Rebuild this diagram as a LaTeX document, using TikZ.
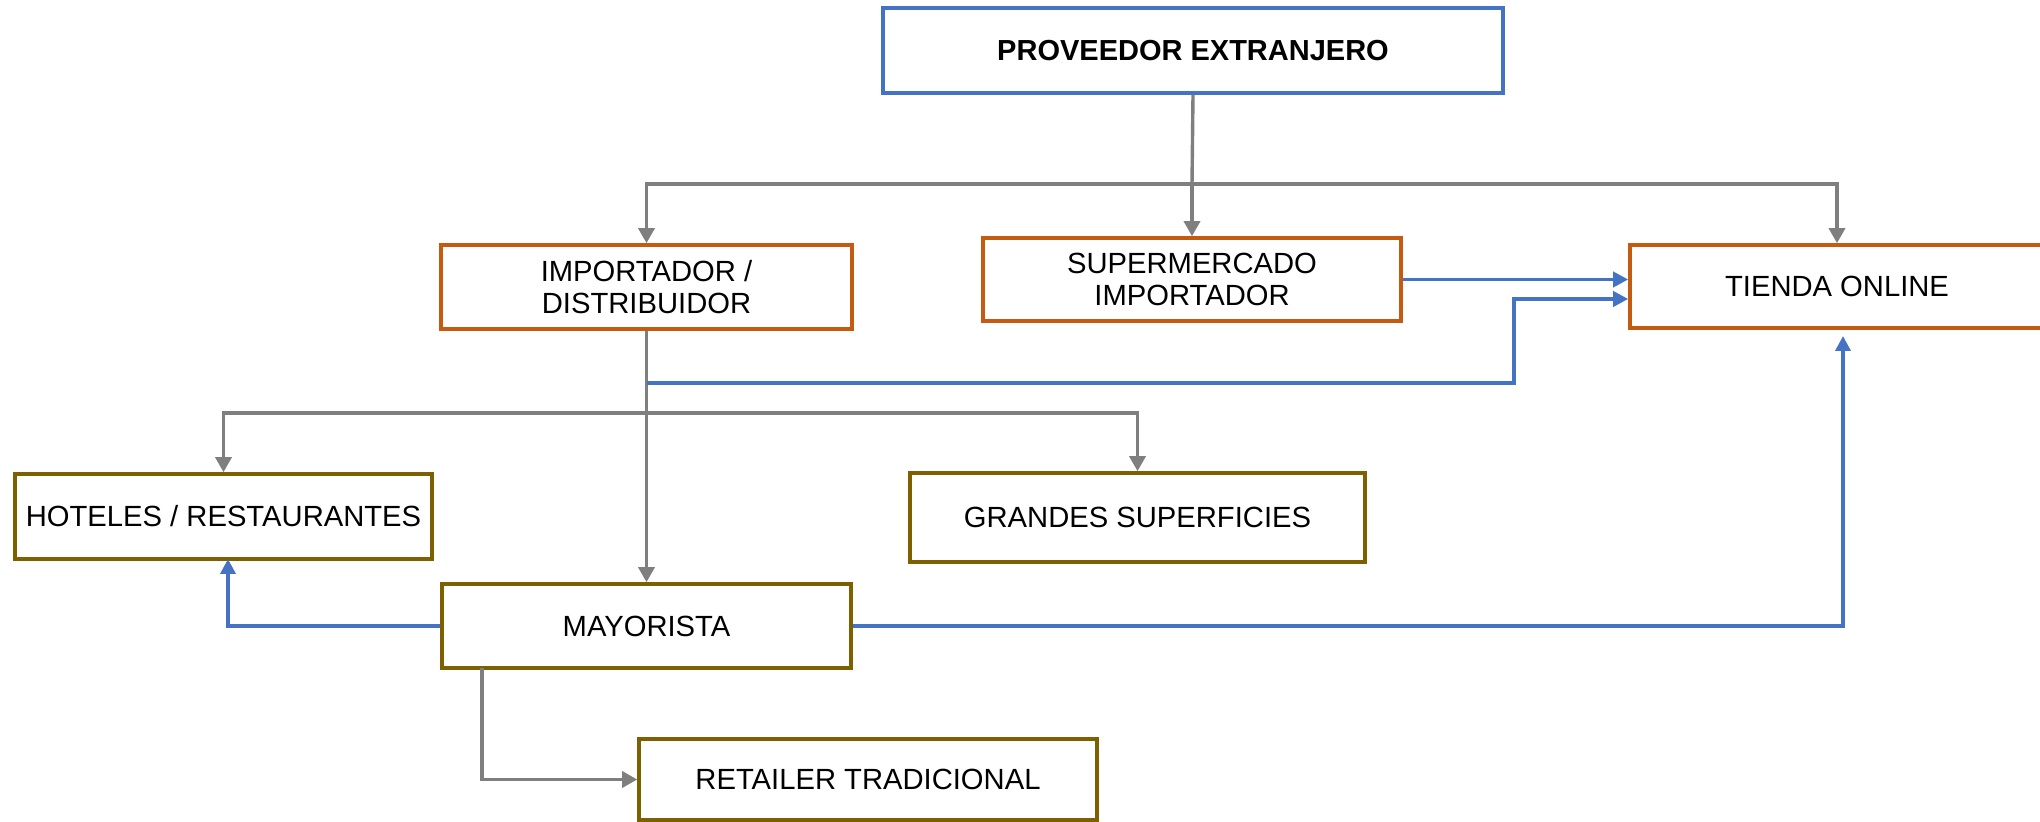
\documentclass[tikz,border=0pt]{standalone}
\usepackage{fontspec}
\setmainfont{Liberation Sans}
\usetikzlibrary{arrows.meta}
\definecolor{cblue}{HTML}{4472C4}
\definecolor{corange}{HTML}{C55A11}
\definecolor{cgold}{HTML}{7F6000}
\definecolor{cgray}{HTML}{7F7F7F}
\begin{document}
\begin{tikzpicture}[x=0.5pt,y=-0.5pt,
  box/.style={draw,line width=1.8pt,fill=white,inner sep=0pt,align=center,
    font=\fontsize{14.6}{15.6}\selectfont},
  bluebox/.style={box,draw=cblue},
  orbox/.style={box,draw=corange},
  goldbox/.style={box,draw=cgold},
  gline/.style={draw=cgray,line width=1.7pt},
  garrow/.style={gline,-{Triangle[length=7.5pt,width=8pt]}},
  bline/.style={draw=cblue,line width=1.8pt},
  barrow/.style={bline,-{Triangle[length=7.5pt,width=7.5pt]}}]
\useasboundingbox (0,0) rectangle (2040,822);
\begin{scope}
\clip (0,0) rectangle (2040,822);
% nodes
\node[bluebox,minimum width=310pt,minimum height=42.5pt,font=\fontsize{14.5}{15.5}\selectfont\bfseries] (prov) at (1193,50.5) {PROVEEDOR EXTRANJERO};
\node[orbox,minimum width=205.5pt,minimum height=42pt] (imp) at (646.5,287) {IMPORTADOR /\\DISTRIBUIDOR};
\node[orbox,minimum width=209pt,minimum height=41.5pt] (sup) at (1192,279.5) {SUPERMERCADO\\IMPORTADOR};
\node[orbox,minimum width=207pt,minimum height=41.5pt] (tienda) at (1837,286.5) {TIENDA ONLINE};
\node[goldbox,minimum width=208.5pt,minimum height=42.5pt] (hot) at (223.5,516.5) {HOTELES / RESTAURANTES};
\node[goldbox,minimum width=227.5pt,minimum height=44.5pt] (gra) at (1137.5,517.5) {GRANDES SUPERFICIES};
\node[goldbox,minimum width=204.5pt,minimum height=42pt] (may) at (646.5,626) {MAYORISTA};
\node[goldbox,minimum width=229pt,minimum height=40.5pt] (ret) at (868,779.5) {RETAILER TRADICIONAL};
% junction coordinates
\coordinate (j1) at (1192,184);
\coordinate (j2) at (646.5,413);
\coordinate (b1) at (646.5,383);
\coordinate (b2) at (1514,299);
\coordinate (h1) at (228,559);
\coordinate (t1) at (1843,336);
\coordinate (m1) at (482,668);
% gray connectors from proveedor
\draw[gline] (prov.south) -- (j1);
\draw[garrow] (j1) -- (sup.north);
\draw[garrow] (j1) -| (imp.north);
\draw[garrow] (j1) -| (tienda.north);
% importador down
\draw[garrow] (imp.south) -- (may.north);
\draw[garrow] (j2) -| (hot.north);
\draw[garrow] (j2) -| (gra.north);
% blue connectors
\draw[barrow] (sup.east) -- (sup.east -| tienda.west);
\draw[barrow] (b1) -| (b2) -- (b2 -| tienda.west);
\draw[barrow] (may.west) -| (h1);
\draw[barrow] (may.east) -| (t1);
% mayorista to retailer
\draw[garrow] (m1) |- (ret.west);
\end{scope}
\end{tikzpicture}
\end{document}
